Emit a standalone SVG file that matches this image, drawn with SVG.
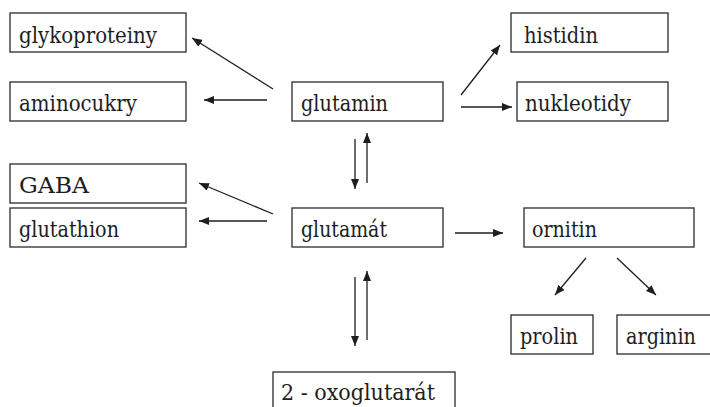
<svg xmlns="http://www.w3.org/2000/svg" width="710" height="407" viewBox="0 0 710 407">
  <style>
    .box { fill: #fff; stroke: #2a2a2a; stroke-width: 1.3; }
    .lbl { font-family: 'DejaVu Serif', serif; font-size: 22px; fill: #1e1e1e; }
    .arr { stroke: #1e1e1e; stroke-width: 1.3; fill: none; marker-end: url(#head); }
  </style>
  <defs>
    <marker id="head" viewBox="0 0 10 8" refX="10" refY="4" markerWidth="10" markerHeight="8" markerUnits="userSpaceOnUse" orient="auto">
      <path d="M0,0 L10,4 L0,8 Z" fill="#1e1e1e"/>
    </marker>
  </defs>
  <rect width="710" height="407" fill="#fff"/>

  <g id="glykoproteiny"><rect class="box" x="10" y="13" width="176" height="39"/><text class="lbl" x="19" y="43" textLength="138" lengthAdjust="spacingAndGlyphs">glykoproteiny</text></g>
  <g id="aminocukry"><rect class="box" x="10" y="82" width="176" height="39"/><text class="lbl" x="19" y="111" textLength="118" lengthAdjust="spacingAndGlyphs">aminocukry</text></g>
  <g id="GABA"><rect class="box" x="10" y="164" width="176" height="39"/><text class="lbl" x="19" y="193" textLength="70" lengthAdjust="spacingAndGlyphs">GABA</text></g>
  <g id="glutathion"><rect class="box" x="10" y="208" width="176" height="39"/><text class="lbl" x="19" y="237" textLength="100" lengthAdjust="spacingAndGlyphs">glutathion</text></g>
  <g id="glutamin"><rect class="box" x="292" y="82" width="151" height="39"/><text class="lbl" x="301" y="111" textLength="87" lengthAdjust="spacingAndGlyphs">glutamin</text></g>
  <g id="glutamat"><rect class="box" x="292" y="208" width="151" height="39"/><text class="lbl" x="301" y="237" textLength="86" lengthAdjust="spacingAndGlyphs">glutamát</text></g>
  <g id="histidin"><rect class="box" x="511" y="13" width="157" height="39"/><text class="lbl" x="524" y="43" textLength="74" lengthAdjust="spacingAndGlyphs">histidin</text></g>
  <g id="nukleotidy"><rect class="box" x="517" y="82" width="151" height="39"/><text class="lbl" x="525" y="111" textLength="106" lengthAdjust="spacingAndGlyphs">nukleotidy</text></g>
  <g id="ornitin"><rect class="box" x="524" y="208" width="170" height="39"/><text class="lbl" x="532" y="237" textLength="65" lengthAdjust="spacingAndGlyphs">ornitin</text></g>
  <g id="prolin"><rect class="box" x="511" y="315" width="82" height="39"/><text class="lbl" x="520" y="344" textLength="58" lengthAdjust="spacingAndGlyphs">prolin</text></g>
  <g id="arginin"><rect class="box" x="617" y="315" width="100" height="39"/><text class="lbl" x="626" y="344" textLength="70" lengthAdjust="spacingAndGlyphs">arginin</text></g>
  <g id="oxoglutarat"><rect class="box" x="273" y="372" width="182" height="50"/><text class="lbl" x="281" y="400" textLength="154" lengthAdjust="spacingAndGlyphs">2 - oxoglutarát</text></g>

  <g id="connectors">
    <line class="arr" x1="273" y1="89" x2="192" y2="38"/>
    <line class="arr" x1="267" y1="100" x2="204" y2="100"/>
    <line class="arr" x1="461" y1="95" x2="500" y2="45"/>
    <line class="arr" x1="461" y1="107" x2="512" y2="107"/>
    <line class="arr" x1="355" y1="139" x2="355" y2="189"/>
    <line class="arr" x1="367" y1="183" x2="367" y2="133"/>
    <line class="arr" x1="273" y1="214" x2="199" y2="183"/>
    <line class="arr" x1="267" y1="221" x2="199" y2="221"/>
    <line class="arr" x1="455" y1="233" x2="503" y2="233"/>
    <line class="arr" x1="355" y1="277" x2="355" y2="346"/>
    <line class="arr" x1="367" y1="340" x2="367" y2="271"/>
    <line class="arr" x1="586" y1="258" x2="555" y2="295"/>
    <line class="arr" x1="617" y1="258" x2="656" y2="295"/>
  </g>
</svg>
